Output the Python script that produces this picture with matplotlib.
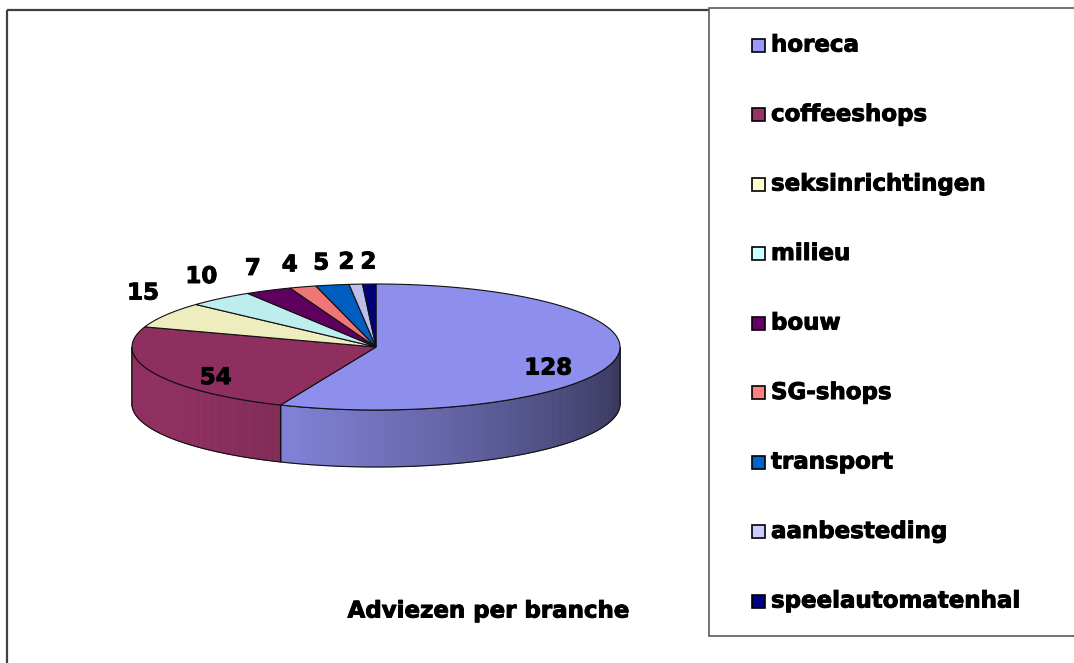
import matplotlib
matplotlib.use("Agg")
import matplotlib.pyplot as plt
import matplotlib.patheffects as pe
from matplotlib.patches import Polygon, Rectangle
import numpy as np

# data
categories = ["horeca", "coffeeshops", "seksinrichtingen", "milieu", "bouw",
              "SG-shops", "transport", "aanbesteding", "speelautomatenhal"]
values = [128, 54, 15, 10, 7, 4, 5, 2, 2]
base_colors = ["#9999FF", "#993366", "#FFFFCC", "#CCFFFF", "#660066",
               "#FF8080", "#0066CC", "#CCCCFF", "#000080"]
title = "Adviezen per branche"

# layout (pixel units, y grows downward)
W, H = 1074, 663
CX, CY = 376, 347        # centre of the top face
A, B = 244, 63           # ellipse semi-axes
DEPTH = 57
FS = 16.5
BOLD = dict(fontsize=FS, fontweight="bold",
            path_effects=[pe.withStroke(linewidth=0.7, foreground="black")])


def shade(color, f):
    rgb = np.array(matplotlib.colors.to_rgb(color))
    return tuple(np.clip(rgb * f, 0, 1))


def ell(theta_deg, dy=0.0, r=1.0):
    t = np.radians(theta_deg)
    return CX + r * A * np.cos(t), CY - r * B * np.sin(t) + dy


def side_factor(theta_deg):
    # light coming from the front-left
    return 0.64 + 0.3 * np.cos(np.radians(theta_deg - 200))


fig = plt.figure(figsize=(W / 100, H / 100), dpi=100)
ax = fig.add_axes([0, 0, 1, 1])
ax.set_xlim(0, W)
ax.set_ylim(H, 0)
ax.axis("off")

# slice angles: clockwise from 12 o'clock
total = float(sum(values))
spans = [v / total * 360 for v in values]
ends = 90 - np.cumsum(spans)
starts = np.concatenate([[90], ends[:-1]])

# sides (front half only, 180..360 deg)
for s, e, col in zip(starts, ends, base_colors):
    lo, hi = e % 360, s % 360
    if hi <= lo:
        hi += 360
    f_lo, f_hi = max(lo, 180), min(hi, 360)
    if f_hi <= f_lo:
        continue
    angs = np.linspace(f_lo, f_hi, 120)
    for t0, t1 in zip(angs[:-1], angs[1:]):
        c = shade(col, side_factor((t0 + t1) / 2))
        quad = [ell(t0), ell(t1), ell(t1, DEPTH), ell(t0, DEPTH)]
        ax.add_patch(Polygon(quad, closed=True, facecolor=c, edgecolor=c,
                             lw=0.6, zorder=2))
    top = [ell(t) for t in angs]
    bot = [ell(t, DEPTH) for t in angs[::-1]]
    ax.add_patch(Polygon(top + bot, closed=True, facecolor="none",
                         edgecolor="#111111", lw=0.8, zorder=3))

# top faces
for s, e, col in zip(starts, ends, base_colors):
    angs = np.linspace(s, e, max(int(abs(s - e)) * 2, 4))
    pts = [(CX, CY)] + [ell(t) for t in angs]
    ax.add_patch(Polygon(pts, closed=True, facecolor=shade(col, 0.93),
                         edgecolor="#111111", lw=0.8, zorder=4))

# value labels
mids = (starts + ends) / 2
prev_x = None
for v, m in zip(values, mids):
    if v / total > 0.15:
        x, y = ell(m, r=0.72)
        ax.text(x, y + 12, str(v), ha="center", va="center", zorder=6, **BOLD)
    else:
        ex, ey = ell(m)
        x = CX + 1.07 * (ex - CX) - 8
        if prev_x is not None:
            x = max(x, prev_x + 22)
        prev_x = x
        ax.text(x, ey - 22, str(v), ha="center", va="center", zorder=6,
                **BOLD)

ax.text(488, 611, title, ha="center", va="center", **BOLD)

# outer chart frame
ax.add_patch(Rectangle((7, 10), W + 20, H + 20, facecolor="none",
                       edgecolor="#404040", lw=1.6, zorder=1))

# legend box
ax.add_patch(Rectangle((709, 8), W, 628, facecolor="white",
                       edgecolor="#5a5a5a", lw=1.2, zorder=5))
for i, (name, col) in enumerate(zip(categories, base_colors)):
    y = 45 + i * 69.5
    ax.add_patch(Rectangle((752, y - 6.5), 13, 13, facecolor=col,
                           edgecolor="black", lw=1.2, zorder=6))
    ax.text(771, y, name, ha="left", va="center", zorder=6, **BOLD)

fig.savefig("out.png", dpi=100)
